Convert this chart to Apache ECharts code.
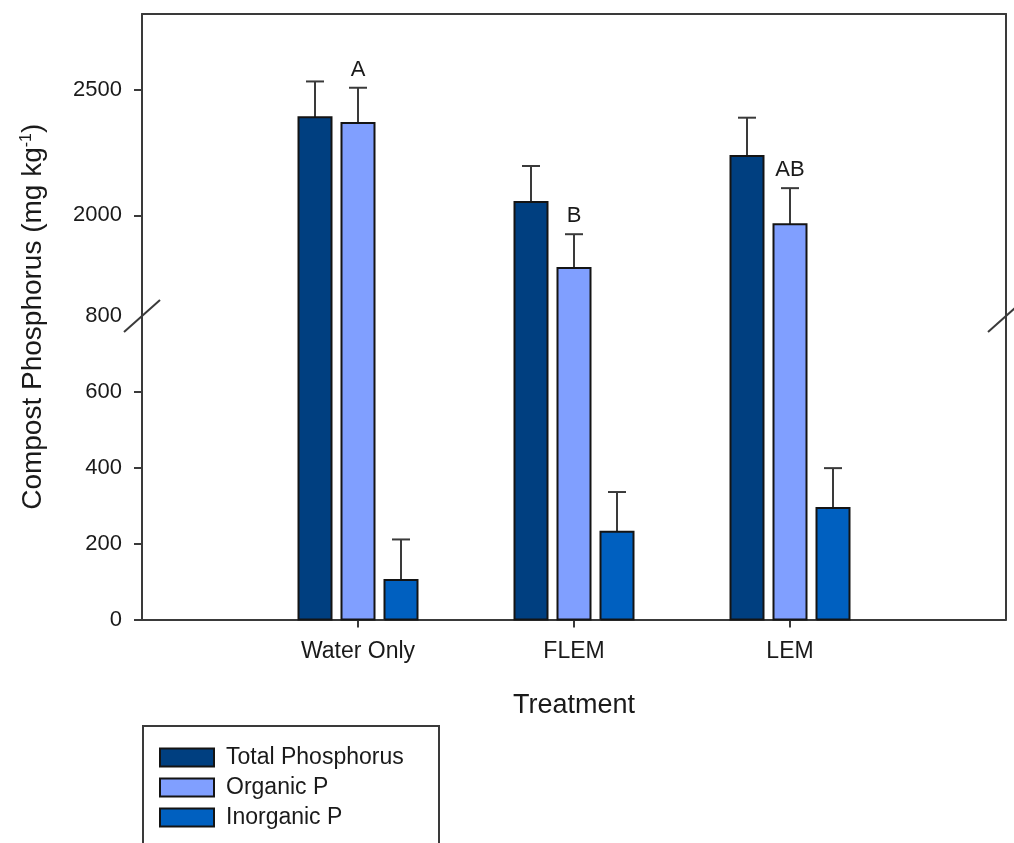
<!DOCTYPE html>
<html>
<head>
<meta charset="utf-8">
<title>Compost Phosphorus by Treatment</title>
<script src="https://cdn.jsdelivr.net/npm/echarts@6/dist/echarts.min.js"></script>
<style>
  html, body { margin: 0; padding: 0; background: #ffffff; }
  #chart { width: 1014px; height: 843px; }
</style>
</head>
<body>
<div id="chart"></div>
<script>
// Treatments sit on positions 1..3 of a five-slot category axis (blank slots pad both ends)
const categories = ['', 'Water Only', 'FLEM', 'LEM', ''];
const seriesNames = ['Total Phosphorus', 'Organic P', 'Inorganic P'];

// Means and upper standard errors, mg kg-1 (Water Only, FLEM, LEM)
const totalP = [2390, 2053, 2236];
const totalErr = [142, 143, 152];
const organicP = [2367, 1791, 1965];
const organicErr = [140, 134, 143];
const inorganicP = [104, 231, 294];
const inorganicErr = [107, 105, 105];

// Mean-separation letters for Organic P
const organicLetters = ['A', 'B', 'AB'];

// Broken value axis: lower and upper segments
const lowerRange = [0, 800];
const upperRange = [1600, 2800];
const lowerTickValues = [0, 200, 400, 600];
const lowerLabelValues = [0, 200, 400, 600, 800];
const upperTickValues = [2000, 2500];

const colors = ['#003F80', '#809FFF', '#0060C0'];
const EDGE = '#141414';
const AXIS = '#3a3a3a';
const TEXT = '#1a1a1a';
const FONT = '"Liberation Sans", Arial, sans-serif';

const BAR_W = 35;      // outer bar width, px
const BAR_STEP = 43;   // centre-to-centre spacing of bars within a group, px
const CAP_W = 18;      // error-bar cap width, px

const chartDom = document.getElementById('chart');
const chart = echarts.init(chartDom, null, { renderer: 'canvas' });

const values = [totalP, organicP, inorganicP];
const errors = [totalErr, organicErr, inorganicErr];

function seriesData(k) {
  return values[k].map((v, i) => [i + 1, v, errors[k][i]]);
}

// Draws one bar segment inside its own grid. Where a bar passes through the
// axis break the edge facing the break is left open so the bar reads as continuous.
function makeRenderer(k, seg) {
  const range = seg === 'upper' ? upperRange : lowerRange;
  const lo = range[0], hi = range[1];
  return function (params, api) {
    const cat = api.value(0);
    const v = api.value(1);
    const e = api.value(2);
    if (v <= lo) return null;
    const topVal = Math.min(v, hi);
    const pTop = api.coord([cat, topVal]);
    const pBase = api.coord([cat, lo]);
    const cx = pTop[0] + (k - 1) * BAR_STEP;
    const x0 = cx - BAR_W / 2 + 1;
    const x1 = cx + BAR_W / 2 - 1;
    const yTop = pTop[1];
    const yBase = pBase[1];
    const children = [];

    const insideSeg = v <= hi;
    if (insideSeg) {
      const yErr = api.coord([cat, v + e])[1];
      children.push({
        type: 'line', shape: { x1: cx, y1: yTop, x2: cx, y2: yErr },
        style: { stroke: AXIS, lineWidth: 2 }
      });
      children.push({
        type: 'line', shape: { x1: cx - CAP_W / 2, y1: yErr, x2: cx + CAP_W / 2, y2: yErr },
        style: { stroke: AXIS, lineWidth: 2 }
      });
      if (k === 1) {
        children.push({
          type: 'text', x: cx, y: yErr - 18,
          style: {
            text: organicLetters[params.dataIndex],
            fontSize: 22, fontFamily: FONT, fill: TEXT,
            align: 'center', verticalAlign: 'middle'
          }
        });
      }
    }

    children.push({
      type: 'rect',
      shape: { x: x0, y: yTop, width: x1 - x0, height: yBase - yTop },
      style: { fill: colors[k] }
    });

    let pts;
    if (seg === 'lower' && v > hi) {
      pts = [[x0, yTop], [x0, yBase], [x1, yBase], [x1, yTop]];
    } else if (seg === 'upper') {
      pts = [[x0, yBase], [x0, yTop], [x1, yTop], [x1, yBase]];
    } else {
      pts = [[x0, yBase], [x0, yTop], [x1, yTop], [x1, yBase], [x0, yBase]];
    }
    children.push({
      type: 'polyline', shape: { points: pts },
      style: { stroke: EDGE, lineWidth: 2, fill: null, lineJoin: 'miter' }
    });

    return { type: 'group', children: children };
  };
}

const series = [];
for (let k = 0; k < 3; k++) {
  ['upper', 'lower'].forEach(function (seg) {
    series.push({
      type: 'custom',
      name: seriesNames[k],
      xAxisIndex: seg === 'upper' ? 0 : 1,
      yAxisIndex: seg === 'upper' ? 0 : 2,
      silent: true,
      itemStyle: { color: colors[k], borderColor: EDGE, borderWidth: 2 },
      encode: { x: 0, y: 1 },
      data: seriesData(k),
      renderItem: makeRenderer(k, seg)
    });
  });
}

const axisLine = { show: true, onZero: false, lineStyle: { color: AXIS, width: 2 } };
const plainNumber = function (v) { return String(v); };
const tickLabel = { fontSize: 22, fontFamily: FONT, color: TEXT, margin: 20, formatter: plainNumber };

const option = {
  backgroundColor: '#ffffff',
  animation: false,
  grid: [
    { left: 142, top: 14, width: 864, height: 302 },
    { left: 142, top: 316, width: 864, height: 303.5 }
  ],
  xAxis: [
    {
      gridIndex: 0, type: 'category', data: categories, boundaryGap: false,
      position: 'top', axisLine: axisLine,
      axisTick: { show: false }, axisLabel: { show: false }, splitLine: { show: false }
    },
    {
      gridIndex: 1, type: 'category', data: categories, boundaryGap: false,
      position: 'bottom', axisLine: axisLine,
      axisTick: {
        show: true, length: 8, inside: false,
        interval: function (i) { return i >= 1 && i <= 3; },
        lineStyle: { color: AXIS, width: 2 }
      },
      axisLabel: { fontSize: 23, fontFamily: FONT, color: TEXT, margin: 21, interval: 0 },
      splitLine: { show: false },
      name: 'Treatment', nameLocation: 'middle', nameGap: 73,
      nameTextStyle: { fontSize: 27, fontFamily: FONT, color: TEXT }
    }
  ],
  yAxis: [
    {
      gridIndex: 0, type: 'value', min: upperRange[0], max: upperRange[1], interval: 400,
      position: 'left', axisLine: axisLine,
      axisTick: { show: true, length: 8, customValues: upperTickValues, lineStyle: { color: AXIS, width: 2 } },
      axisLabel: Object.assign({}, tickLabel, { customValues: upperTickValues }),
      splitLine: { show: false }
    },
    {
      gridIndex: 0, type: 'value', min: upperRange[0], max: upperRange[1], interval: 400,
      position: 'right', axisLine: axisLine,
      axisTick: { show: false }, axisLabel: { show: false }, splitLine: { show: false }
    },
    {
      gridIndex: 1, type: 'value', min: lowerRange[0], max: lowerRange[1], interval: 200,
      position: 'left', axisLine: axisLine,
      axisTick: { show: true, length: 8, customValues: lowerTickValues, lineStyle: { color: AXIS, width: 2 } },
      axisLabel: Object.assign({}, tickLabel, { customValues: lowerLabelValues }),
      splitLine: { show: false }
    },
    {
      gridIndex: 1, type: 'value', min: lowerRange[0], max: lowerRange[1], interval: 200,
      position: 'right', axisLine: axisLine,
      axisTick: { show: false }, axisLabel: { show: false }, splitLine: { show: false }
    }
  ],
  legend: {
    orient: 'vertical',
    left: 159, top: 746,
    padding: 0,
    itemWidth: 54, itemHeight: 18, itemGap: 7,
    icon: 'rect',
    selectedMode: false,
    textStyle: { fontSize: 23, fontFamily: FONT, color: TEXT, lineHeight: 23, padding: [0, 0, 0, 7] },
    data: seriesNames.map(function (n, k) {
      return { name: n, icon: 'rect', itemStyle: { color: colors[k], borderColor: EDGE, borderWidth: 2 } };
    })
  },
  series: series
};

chart.setOption(option);

// Y-axis title centred over both axis segments, the break marks on each side,
// and the legend frame (open at the bottom edge of the canvas)
const yBreak = chart.convertToPixel({ yAxisIndex: 2 }, lowerRange[1]);
const yTopPx = chart.convertToPixel({ yAxisIndex: 0 }, upperRange[1]);
const yZeroPx = chart.convertToPixel({ yAxisIndex: 2 }, lowerRange[0]);
const xLeft = 142, xRight = 142 + 864;

chart.setOption({
  graphic: [
    {
      type: 'text', x: 33, y: (yTopPx + yZeroPx) / 2, rotation: Math.PI / 2,
      style: {
        text: 'Compost Phosphorus (mg kg{sup|-1})',
        fontSize: 28, fontFamily: FONT, fill: TEXT,
        align: 'center', verticalAlign: 'middle',
        rich: { sup: { fontSize: 16, fontFamily: FONT, fill: TEXT, verticalAlign: 'top', lineHeight: 28 } }
      }
    },
    {
      type: 'line', shape: { x1: xLeft - 18, y1: yBreak + 16, x2: xLeft + 18, y2: yBreak - 16 },
      style: { stroke: AXIS, lineWidth: 2 }
    },
    {
      type: 'line', shape: { x1: xRight - 18, y1: yBreak + 16, x2: xRight + 18, y2: yBreak - 16 },
      style: { stroke: AXIS, lineWidth: 2 }
    },
    {
      type: 'rect', shape: { x: 143, y: 726, width: 296, height: 140 },
      style: { fill: null, stroke: AXIS, lineWidth: 2 }, silent: true
    }
  ]
});
</script>
</body>
</html>
